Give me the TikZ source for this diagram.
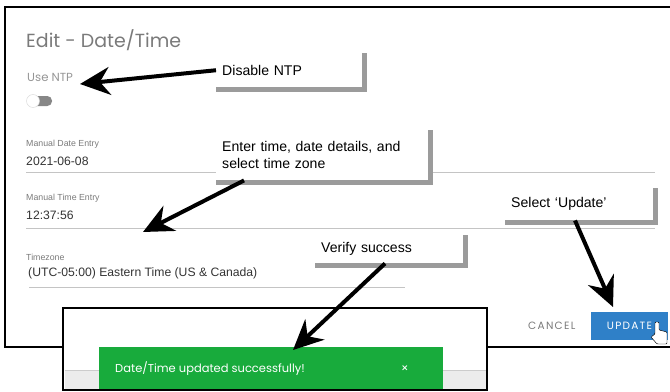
\documentclass[tikz,border=0pt]{standalone}
\usepackage{fontspec}
\setmainfont{Liberation Sans}
\newfontfamily\uifont{Poppins}
\newfontfamily\uispaced[LetterSpace=12]{Poppins}
\usetikzlibrary{arrows.meta}
\definecolor{formgray}{HTML}{7A7A7A}
\definecolor{rulegray}{HTML}{C4C4C4}
\definecolor{shadegray}{HTML}{9B9B9B}
\definecolor{okgreen}{HTML}{18AB3C}
\definecolor{btnblue}{HTML}{2F80C8}
\definecolor{stripgray}{HTML}{ECECEC}
\tikzset{
  callout/.style={fill=white,anchor=north west,align=left,inner xsep=0.18cm,inner ysep=0pt,font=\fontsize{12}{14.5}\selectfont},
  shade/.style={shadegray,line width=0.15cm},
  pointer/.style={line width=0.12cm,-{Stealth[length=0.9cm,width=0.84cm,inset=0.3cm]}},
  fieldlabel/.style={anchor=west,inner sep=0pt,text=formgray,font=\fontsize{7.5}{8}\selectfont},
  fieldvalue/.style={anchor=west,inner sep=0pt,text=black!80,font=\fontsize{10.4}{12}\selectfont},
  fieldrule/.style={rulegray,line width=0.03cm}
}
\begin{document}
\begin{tikzpicture}[x=0.03cm,y=-0.03cm]
\useasboundingbox (0,0) rectangle (670,392);
\draw[line width=0.07cm] (675,7) -- (5,7) -- (5,347) -- (675,347);
\node[anchor=west,inner sep=0pt,text=formgray,font=\uifont\fontsize{16.2}{19}\selectfont] (title) at (26,40) {Edit - Date/Time};
\node[anchor=west,inner sep=0pt,text=formgray!80,font=\uifont\fontsize{10}{12}\selectfont] (usentp) at (27,77) {Use NTP};
\fill[formgray!90,rounded corners=0.14cm] (31,96) rectangle (52,106);
\draw[black!15,fill=white] (33,101) circle (6.5);
\node[fieldlabel] (datelbl) at (26,144) {Manual Date Entry};
\node[fieldvalue] (dateval) at (26,161) {2021-06-08};
\draw[fieldrule] (26,172) -- (655,172);
\node[fieldlabel] (timelbl) at (26,198) {Manual Time Entry};
\node[fieldvalue] (timeval) at (26,215) {12:37:56};
\draw[fieldrule] (26,228) -- (655,228);
\node[fieldlabel] (zonelbl) at (26,257) {Timezone};
\node[fieldvalue] (zoneval) at (28,273) {(UTC-05:00) Eastern Time (US \& Canada)};
\draw[fieldrule] (29,287) -- (405,287);
\node[anchor=west,inner sep=0pt,text=formgray,font=\uispaced\fontsize{9}{11}\selectfont] (cancel) at (528,326) {CANCEL};
\node[fill=btnblue,minimum width=2.31cm,minimum height=0.84cm,inner sep=0pt,text=white,font=\uispaced\fontsize{9}{11}\selectfont] (update) at (629.5,326) {UPDATE\hspace{0.2cm}};
\draw[black,fill=white,line width=0.4pt,rounded corners=0.03cm] (655,334) -- (655,322) -- (659,322) -- (659,330) -- (667,332) -- (667,344) -- (657,344) -- (651,337) -- cycle;
\draw[line width=0.07cm,fill=white] (63,308) rectangle (487,390);
\fill[stripgray] (64.5,370) rectangle (485.5,388.5);
\draw[black!20,line width=0.03cm] (64.5,370) -- (485.5,370);
\fill[okgreen] (99,347) rectangle (443,388.5);
\node[anchor=west,inner sep=0pt,text=white,font=\uifont\fontsize{9.8}{11}\selectfont] (okmsg) at (115,369) {Date/Time updated successfully!};
\node[inner sep=0pt,text=white,font=\uifont\fontsize{10}{11}\selectfont] (okclose) at (405,369) {×};
\node[callout,text width=4.02cm,minimum height=1.02cm] (ntp) at (216,53) {Disable NTP};
\node[callout,text width=6.0cm,minimum height=1.5cm] (entry) at (216,130) {Enter time, date details, and\\select time zone};
\node[callout,text width=4.08cm,minimum height=0.96cm] (upd) at (505,188) {Select ‘Update’};
\node[callout,text width=4.08cm,minimum height=0.84cm] (ver) at (315,235) {Verify success};
\foreach \b in {ntp,entry,upd,ver}
  \draw[shade] ([shift={(2.5,0)}]\b.north east) -- ([shift={(2.5,2.5)}]\b.south east) -- ([shift={(0,2.5)}]\b.south west);
\coordinate (tipntp) at (80,84);
\coordinate (tiptime) at (143,232);
\coordinate (tipupd) at (613,307);
\coordinate (tipok) at (293,350);
\draw[pointer] (ntp.west) -- (tipntp);
\draw[pointer] ([shift={(28,0)}]entry.south west) -- (tiptime);
\draw[pointer] ([shift={(70,0)}]upd.south west) -- (tipupd);
\draw[pointer] ([shift={(70,0)}]ver.south west) -- (tipok);
\end{tikzpicture}
\end{document}
